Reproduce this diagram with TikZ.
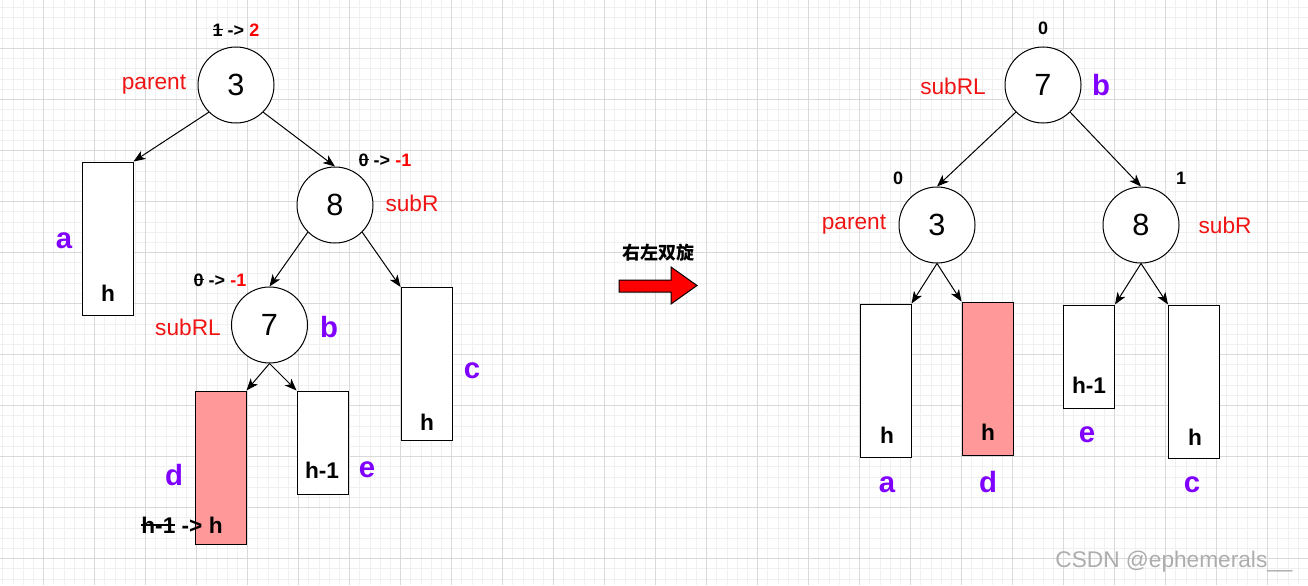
\documentclass[tikz,border=0pt]{standalone}
\usepackage{fontspec}
\setmainfont{Liberation Sans}
\newfontfamily\cjk{Noto Sans CJK SC}
\usetikzlibrary{arrows.meta,positioning}
\definecolor{rolered}{HTML}{F01414}
\definecolor{tagviolet}{HTML}{7F00FF}
\definecolor{hotbox}{HTML}{FF9999}
\definecolor{gridminor}{HTML}{F0F0F0}
\definecolor{gridmajor}{HTML}{D9D9D9}
\newcommand\strk[1]{\setbox0\hbox{#1}\rlap{\raisebox{0.33em}{\rule{\wd0}{0.09em}}}\box0\relax}
\tikzset{
  avl/.style={x=0.75pt,y=-0.75pt,line width=0.75pt,
    >={Stealth[length=9pt,width=7pt,inset=2.5pt]}},
  key/.style={circle,draw,line width=0.75pt,fill=white,minimum size=57pt,inner sep=0pt,
    font=\fontsize{23}{26}\selectfont},
  tallbox/.style={draw,fill=white,line width=0.75pt,minimum width=38.25pt,minimum height=114.75pt,inner sep=0pt},
  shortbox/.style={tallbox,minimum height=77.25pt},
  role/.style={text=rolered,inner sep=0pt,font=\fontsize{17}{20}\selectfont},
  tag/.style={text=tagviolet,inner sep=0pt,font=\bfseries\fontsize{22}{26}\selectfont},
  hgt/.style={inner sep=0pt,font=\bfseries\fontsize{17}{20}\selectfont},
  bal/.style={inner sep=0pt,font=\bfseries\fontsize{13.5}{16}\selectfont},
}

\begin{document}
\begin{tikzpicture}[avl]
  \useasboundingbox (0,0) rectangle (1308,585);
  % background grid
  \foreach \i in {-4,...,124}{
    \pgfmathsetmacro\gx{43.5+10.2*\i}
    \draw[gridminor,line width=0.6pt] (\gx,0) -- (\gx,585);
  }
  \foreach \j in {-4,...,52}{
    \pgfmathsetmacro\gy{48.5+10.2*\j}
    \draw[gridminor,line width=0.6pt] (0,\gy) -- (1308,\gy);
  }
  \foreach \i in {0,...,25}{
    \pgfmathsetmacro\gx{43.5+51*\i}
    \draw[gridmajor,line width=0.6pt] (\gx,0) -- (\gx,585);
  }
  \foreach \j in {0,...,10}{
    \pgfmathsetmacro\gy{48.5+51*\j}
    \draw[gridmajor,line width=0.6pt] (0,\gy) -- (1308,\gy);
  }

  % before the rotation
  \node[key] (n3) at (236,85) {3};
  \node[key] (n8) at (335,205) {8};
  \node[key] (n7) at (269.5,325) {7};
  \node[tallbox] (ra) at (107.5,238.5) {};
  \node[tallbox] (rc) at (426.5,364) {};
  \node[tallbox,fill=hotbox] (rd) at (220.5,467.5) {};
  \node[shortbox] (re) at (322.5,442.5) {};

  \draw[->] (n3.225) -- (ra.north east);
  \draw[->] (n3.315) -- (n8.north);
  \draw[->] (n8.225) -- (n7.north);
  \draw[->] (n8.315) -- (rc.north west);
  \draw[->] (n7.south) -- (rd.north east);
  \draw[->] (n7.south) -- (re.north west);

  \node[role] (parL) at (154,85) {parent};
  \node[role] (subRL) at (412,203) {subR};
  \node[role] (subRLL) at (188,327) {subRL};
  \node[bal] (bal3) at (236,30) {\strk{1} -> \textcolor{red}{2}};
  \node[bal] (bal8) at (385,160) {\strk{0} -> \textcolor{red}{-1}};
  \node[bal] (bal7) at (220,280) {\strk{0} -> \textcolor{red}{-1}};

  \node[tag] (tagaL) at (64,241) {a};
  \node[tag] (tagbL) at (329,327) {b};
  \node[tag] (tagcL) at (472,371) {c};
  \node[tag] (tagdL) at (174,475) {d};
  \node[tag] (tageL) at (367,470) {e};

  \node[hgt] (haL) at (108,293) {h};
  \node[hgt] (hcL) at (427,422) {h};
  \node[hgt] (heL) at (322,470) {h-1};
  \node[hgt] (hdL) at (182,525) {\strk{h-1} -> h};

  % rotation sign
  \draw[fill=red,line width=0.75pt] (619,280) -- (671,280) -- (671,267) -- (697,285.5)
    -- (671,304) -- (671,292) -- (619,292) -- cycle;
  \node[inner sep=0pt,font=\cjk\bfseries\fontsize{13.5}{16}\selectfont] (rot) at (658,253) {右左双旋};

  % after the rotation
  \node[key] (m7) at (1043,85) {7};
  \node[key] (m3) at (937,225) {3};
  \node[key] (m8) at (1141,225) {8};
  \node[tallbox] (Ra) at (885.5,380.5) {};
  \node[tallbox,fill=hotbox] (Rd) at (987.5,378.5) {};
  \node[shortbox] (Re) at (1089,356.5) {};
  \node[tallbox] (Rc) at (1194,381.5) {};

  \draw[->] (m7.225) -- (m3.north);
  \draw[->] (m7.315) -- (m8.north);
  \draw[->] (m3.south) -- (Ra.north east);
  \draw[->] (m3.south) -- (Rd.north west);
  \draw[->] (m8.south) -- (Re.north east);
  \draw[->] (m8.south) -- (Rc.north west);

  \node[role] (parR) at (854,225) {parent};
  \node[role] (subRR) at (1225,225) {subR};
  \node[role] (subRLR) at (953,86) {subRL};
  \node[bal] (balm7) at (1043,28) {0};
  \node[bal] (balm3) at (898,178) {0};
  \node[bal] (balm8) at (1181,178) {1};

  \node[tag] (tagbR) at (1101,85) {b};
  \node[tag] (tagaR) at (887,485) {a};
  \node[tag] (tagdR) at (988,482) {d};
  \node[tag] (tageR) at (1087,435) {e};
  \node[tag] (tagcR) at (1192,485) {c};

  \node[hgt] (haR) at (887,435) {h};
  \node[hgt] (hdR) at (988,432) {h};
  \node[hgt] (heR) at (1089,385) {h-1};
  \node[hgt] (hcR) at (1195,437) {h};

  \node[inner sep=0pt,text=black!32,font=\fontsize{17}{20}\selectfont] (mark) at (1174,562) {CSDN @ephemerals\_\_};
\end{tikzpicture}
\end{document}
